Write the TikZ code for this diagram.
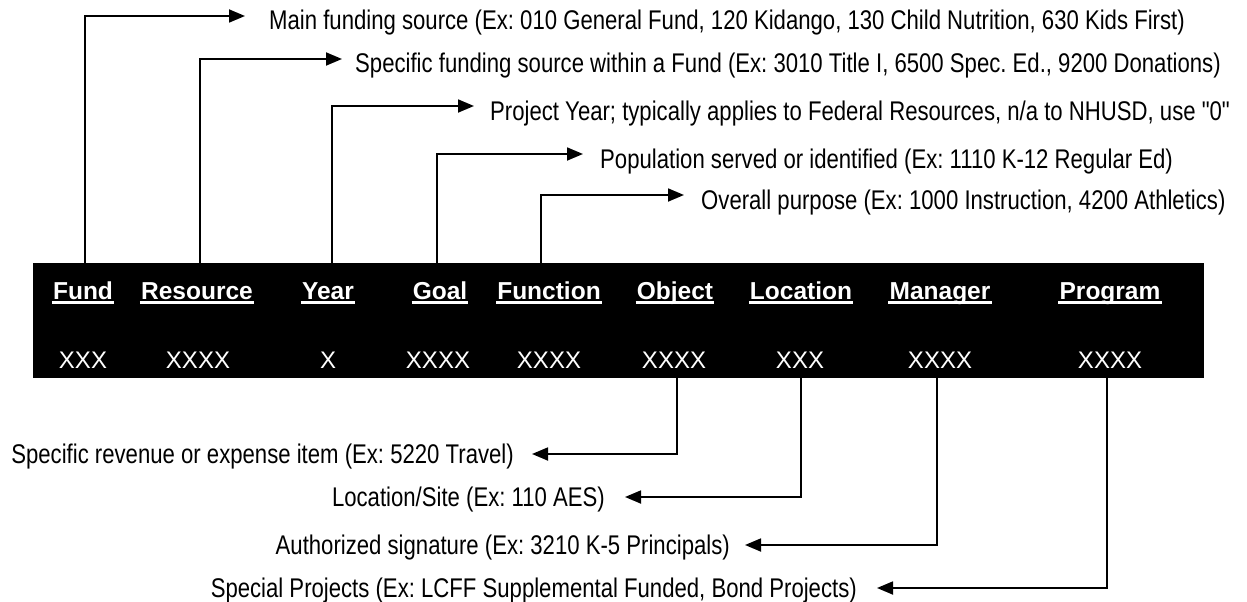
\documentclass[tikz,border=0pt]{standalone}
\usepackage{fontspec}
\setmainfont{Liberation Sans}
\newfontfamily\narrowfont[FakeStretch=0.82]{Liberation Sans}
\usetikzlibrary{arrows.meta}
\frenchspacing
\begin{document}
\begin{tikzpicture}[x=1pt,y=-1pt,
  conn/.style={line width=1.8pt,-{Triangle[length=16pt,width=13pt]},line join=miter},
  lbl/.style={font=\narrowfont\fontsize{27}{30}\selectfont,inner sep=0pt,anchor=base west},
  lblr/.style={lbl,anchor=base east},
  hdr/.style={font=\bfseries\fontsize{24.5}{28}\selectfont,text=white,inner sep=0pt,anchor=base},
  val/.style={font=\fontsize{24}{28}\selectfont,text=white,inner sep=0pt,anchor=base},
  uline/.style={white,line width=2.5pt}]
\useasboundingbox (0,0) rectangle (1247,602);
\fill[white] (0,0) rectangle (1247,602);

% bar
\node[fill=black,minimum width=1171pt,minimum height=115pt,inner sep=0pt,anchor=north west] (bar) at (33,263) {};

% headers
\node[hdr] (hFund) at (83,299) {Fund};
\node[hdr] (hRes)  at (197,299) {Resource};
\node[hdr] (hYear) at (328,299) {Year};
\node[hdr] (hGoal) at (440,299) {Goal};
\node[hdr] (hFunc) at (549,299) {Function};
\node[hdr] (hObj)  at (675,299) {Object};
\node[hdr] (hLoc)  at (801,299) {Location};
\node[hdr] (hMan)  at (940,299) {Manager};
\node[hdr] (hProg) at (1110,299) {Program};
\foreach \h in {hFund,hRes,hYear,hGoal,hFunc,hObj,hLoc,hMan,hProg}{
  \draw[uline] ([xshift=-1pt,yshift=-3.5pt]\h.base west) -- ([xshift=1pt,yshift=-3.5pt]\h.base east);
}

% values
\node[val] (vFund) at (83,368) {XXX};
\node[val] (vRes)  at (198,368) {XXXX};
\node[val] (vYear) at (328,368) {X};
\node[val] (vGoal) at (438,368) {XXXX};
\node[val] (vFunc) at (549,368) {XXXX};
\node[val] (vObj)  at (674,368) {XXXX};
\node[val] (vLoc)  at (800,368) {XXX};
\node[val] (vMan)  at (940,368) {XXXX};
\node[val] (vProg) at (1110,368) {XXXX};

% connector anchors on the bar
\coordinate (cFund) at (85,263);
\coordinate (cRes)  at (200,263);
\coordinate (cYear) at (332,263);
\coordinate (cGoal) at (437,263);
\coordinate (cFunc) at (541,263);
\coordinate (cObj)  at (677,378);
\coordinate (cLoc)  at (801,378);
\coordinate (cMan)  at (937,378);
\coordinate (cProg) at (1107,378);

% arrow tips
\coordinate (t1) at (245,16);
\coordinate (t2) at (342,59);
\coordinate (t3) at (474,106);
\coordinate (t4) at (583,154);
\coordinate (t5) at (684,195);
\coordinate (b1) at (532,454);
\coordinate (b2) at (625,497);
\coordinate (b3) at (745,545);
\coordinate (b4) at (877,588);

% top labels
\node[lbl] (l1) at (269,30) {Main funding source (Ex: 010 General Fund, 120 Kidango, 130 Child Nutrition, 630 Kids First)};
\node[lbl] (l2) at (355,73) {Specific funding source within a Fund (Ex: 3010 Title I, 6500 Spec. Ed., 9200 Donations)};
\node[lbl] (l3) at (490,120) {Project Year; typically applies to Federal Resources, n/a to NHUSD, use "0"};
\node[lbl] (l4) at (600,168) {Population served or identified (Ex: 1110 K-12 Regular Ed)};
\node[lbl] (l5) at (701,209) {Overall purpose (Ex: 1000 Instruction, 4200 Athletics)};

% bottom labels
\node[lblr] (m1) at (514,463) {Specific revenue or expense item (Ex: 5220 Travel)};
\node[lblr] (m2) at (605,506) {Location/Site (Ex: 110 AES)};
\node[lblr] (m3) at (730,554) {Authorized signature (Ex: 3210 K-5 Principals)};
\node[lblr] (m4) at (857,597) {Special Projects (Ex: LCFF Supplemental Funded, Bond Projects)};

% connectors
\draw[conn] (cFund) |- (t1);
\draw[conn] (cRes)  |- (t2);
\draw[conn] (cYear) |- (t3);
\draw[conn] (cGoal) |- (t4);
\draw[conn] (cFunc) |- (t5);
\draw[conn] (cObj)  |- (b1);
\draw[conn] (cLoc)  |- (b2);
\draw[conn] (cMan)  |- (b3);
\draw[conn] (cProg) |- (b4);
\end{tikzpicture}
\end{document}
